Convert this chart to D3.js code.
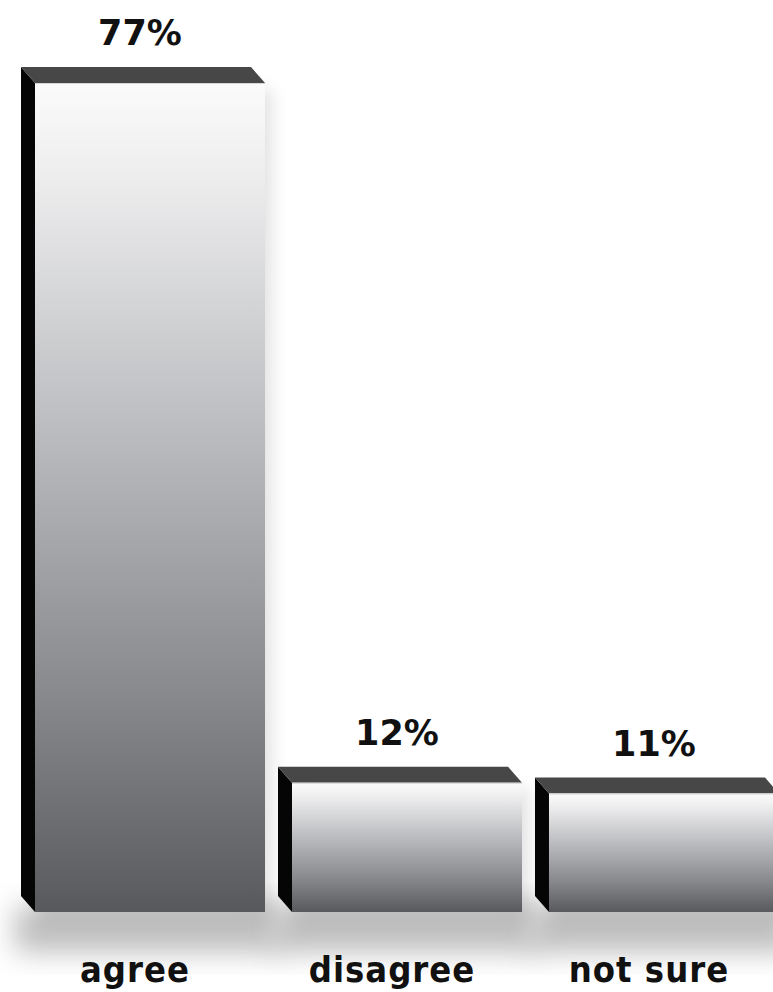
<!DOCTYPE html>
<html>
<head>
<meta charset="utf-8">
<script src="https://cdn.jsdelivr.net/npm/d3@7"></script>
<style>
  html, body { margin: 0; padding: 0; background: #ffffff; }
  svg { display: block; }
</style>
</head>
<body>
<div id="chart"></div>
<script>
// Survey answers and their shares (percent)
const categories = ["agree", "disagree", "not sure"];
const values = [77, 12, 11];
const valueLabels = ["77%", "12%", "11%"];

const width = 773, height = 992;
const baseY = 912;           // floor of the bars
const depthX = 14, depthY = 16; // extrusion of the 3D boxes

const svg = d3.select("#chart").append("svg")
  .attr("width", width).attr("height", height);

const defs = svg.append("defs");

// front-face shading: light at the top, dark steel grey at the bottom
const grad = defs.append("linearGradient")
  .attr("id", "front").attr("x1", 0).attr("y1", 0).attr("x2", 0).attr("y2", 1);
[[0, "#fbfbfb"], [0.1, "#efeff0"], [0.4, "#bebfc2"], [0.75, "#86878b"], [1, "#58595d"]]
  .forEach(([o, c]) => grad.append("stop").attr("offset", o).attr("stop-color", c));

const blur = defs.append("filter").attr("id", "soft")
  .attr("x", "-50%").attr("y", "-50%").attr("width", "200%").attr("height", "200%");
blur.append("feGaussianBlur").attr("stdDeviation", 14);

const blurSmall = defs.append("filter").attr("id", "halo")
  .attr("x", "-50%").attr("y", "-50%").attr("width", "200%").attr("height", "200%");
blurSmall.append("feGaussianBlur").attr("stdDeviation", 9);

const x = d3.scaleBand()
  .domain(categories)
  .range([35, 779])
  .paddingInner(0.105)
  .paddingOuter(0);

const y = d3.scaleLinear()
  .domain([0, d3.max(values)])
  .range([baseY, 83]);

const data = categories.map((c, i) => ({ cat: c, value: values[i], label: valueLabels[i] }));
const w = x.bandwidth();

// floor shadows
const shadows = svg.append("g");
shadows.selectAll("rect.floor").data(data).join("rect")
  .attr("class", "floor")
  .attr("x", d => x(d.cat) - depthX - 6)
  .attr("y", baseY - 6)
  .attr("width", w + depthX + 22)
  .attr("height", 46)
  .attr("fill", "#bdbdbd")
  .attr("filter", "url(#soft)");
shadows.selectAll("rect.halo").data(data).join("rect")
  .attr("class", "halo")
  .attr("x", d => x(d.cat) + 4)
  .attr("y", d => y(d.value) + 6)
  .attr("width", w + 2)
  .attr("height", d => baseY - y(d.value))
  .attr("fill", "#000")
  .attr("opacity", 0.12)
  .attr("filter", "url(#halo)");

const bars = svg.append("g").selectAll("g").data(data).join("g");

// left side face
bars.append("path")
  .attr("fill", "#050505")
  .attr("d", d => {
    const fx = x(d.cat), fy = y(d.value);
    return `M${fx},${fy} L${fx - depthX},${fy - depthY} L${fx - depthX},${baseY - depthY} L${fx},${baseY} Z`;
  });

// top face
bars.append("path")
  .attr("fill", "#474747")
  .attr("d", d => {
    const fx = x(d.cat), fy = y(d.value);
    return `M${fx},${fy} L${fx - depthX},${fy - depthY} L${fx + w - depthX},${fy - depthY} L${fx + w},${fy} Z`;
  });

// front face
bars.append("rect")
  .attr("x", d => x(d.cat))
  .attr("y", d => y(d.value))
  .attr("width", w)
  .attr("height", d => baseY - y(d.value))
  .attr("fill", "url(#front)");

// thin highlight along the front top edge
bars.append("line")
  .attr("x1", d => x(d.cat)).attr("x2", d => x(d.cat) + w)
  .attr("y1", d => y(d.value) + 0.5).attr("y2", d => y(d.value) + 0.5)
  .attr("stroke", "#d6d6d6").attr("stroke-width", 1);

// value labels above each box
svg.append("g").selectAll("text").data(data).join("text")
  .attr("x", d => x(d.cat) + w / 2 - 10)
  .attr("y", d => y(d.value) - depthY - 22)
  .attr("text-anchor", "middle")
  .attr("font-family", "'DejaVu Sans', sans-serif")
  .attr("font-weight", "bold")
  .attr("font-size", 35)
  .attr("fill", "#111")
  .text(d => d.label);

// category labels under the floor
svg.append("g").selectAll("text").data(data).join("text")
  .attr("x", d => x(d.cat) + w / 2 - 15)
  .attr("y", 982)
  .attr("text-anchor", "middle")
  .attr("font-family", "'DejaVu Sans Condensed', 'DejaVu Sans', sans-serif")
  .attr("font-stretch", "condensed")
  .attr("font-weight", "bold")
  .attr("font-size", 36)
  .attr("letter-spacing", 1)
  .attr("fill", "#111")
  .text(d => d.cat);
</script>
</body>
</html>
